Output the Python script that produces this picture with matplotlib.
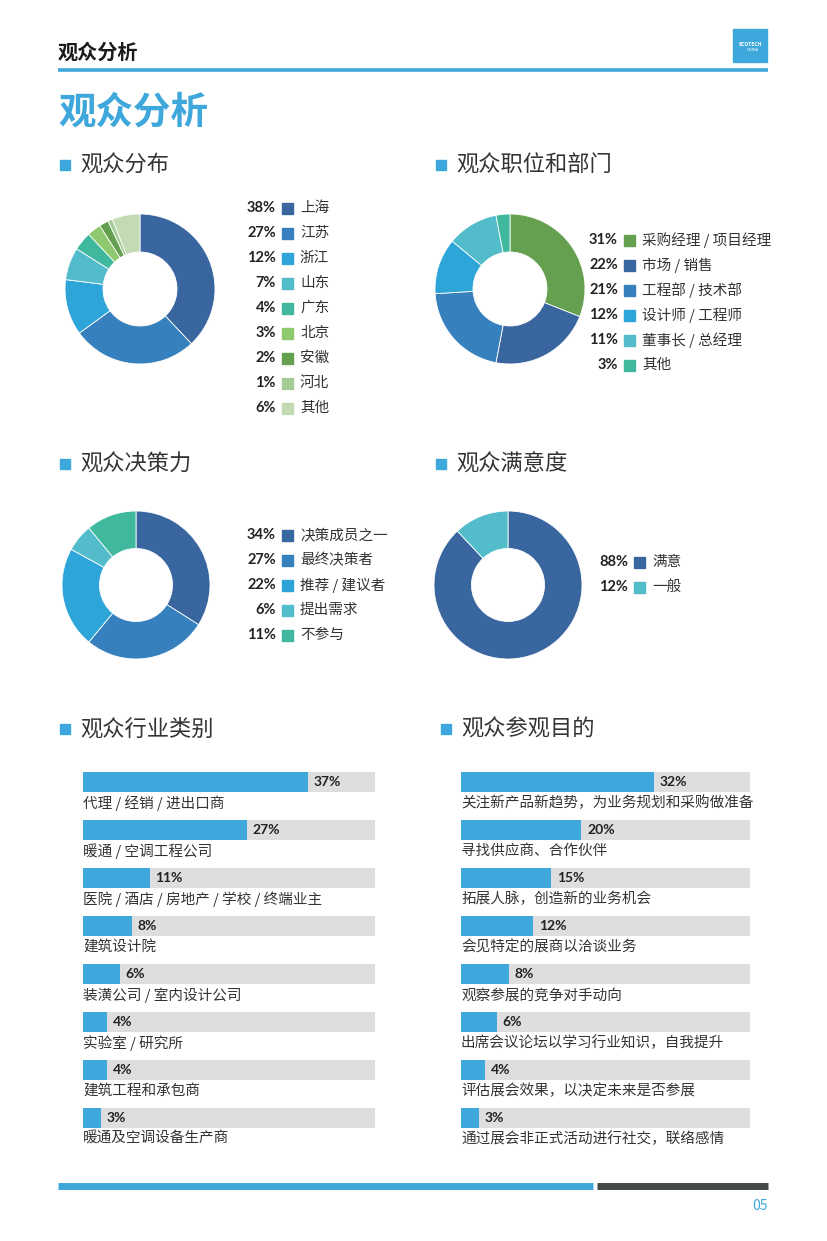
import matplotlib
matplotlib.use("Agg")
import matplotlib.pyplot as plt
from matplotlib.patches import Rectangle

plt.rcParams['font.family'] = ['Noto Sans CJK SC', 'DejaVu Sans']

W, H = 827, 1241

# 数据
dist_labels = ['上海', '江苏', '浙江', '山东', '广东', '北京', '安徽', '河北', '其他']
dist_values = [38, 27, 12, 7, 4, 3, 2, 1, 6]

job_labels = ['采购经理 / 项目经理', '市场 / 销售', '工程部 / 技术部', '设计师 / 工程师', '董事长 / 总经理', '其他']
job_values = [31, 22, 21, 12, 11, 3]

decision_labels = ['决策成员之一', '最终决策者', '推荐 / 建议者', '提出需求', '不参与']
decision_values = [34, 27, 22, 6, 11]

satisfy_labels = ['满意', '一般']
satisfy_values = [88, 12]

industry_labels = ['代理 / 经销 / 进出口商', '暖通 / 空调工程公司', '医院 / 酒店 / 房地产 / 学校 / 终端业主',
                   '建筑设计院', '装潢公司 / 室内设计公司', '实验室 / 研究所', '建筑工程和承包商', '暖通及空调设备生产商']
industry_values = [37, 27, 11, 8, 6, 4, 4, 3]

purpose_labels = ['关注新产品新趋势，为业务规划和采购做准备', '寻找供应商、合作伙伴', '拓展人脉，创造新的业务机会',
                  '会见特定的展商以洽谈业务', '观察参展的竞争对手动向', '出席会议论坛以学习行业知识，自我提升',
                  '评估展会效果，以决定未来是否参展', '通过展会非正式活动进行社交，联络感情']
purpose_values = [32, 20, 15, 12, 8, 6, 4, 3]

# 颜色
BLUE = '#3ea7dc'
DARK = '#333333'
dist_colors = ['#3a66a0', '#3680bd', '#2ea5d8', '#52bccb', '#3fb89e', '#8ec86f', '#64a050', '#a4cc94', '#c2dbb4']
job_colors = ['#64a050', '#3a66a0', '#3680bd', '#2ea5d8', '#52bccb', '#3fb89e']
decision_colors = ['#3a66a0', '#3680bd', '#2ea5d8', '#52bccb', '#3fb89e']
satisfy_colors = ['#3a66a0', '#52bccb']

PCT_FONT = ['Lato', 'Noto Sans CJK SC']

fig = plt.figure(figsize=(W / 100, H / 100), dpi=100)
bg = fig.add_axes([0, 0, 1, 1])
bg.set_xlim(0, W)
bg.set_ylim(H, 0)
bg.axis('off')

# 页眉
bg.text(58, 52, '观众分析', fontsize=14.5, fontweight='bold', color='#1a1a1a', va='center')
bg.plot([58, 768], [69.5, 69.5], color=BLUE, lw=2.6, solid_capstyle='butt')
bg.add_patch(Rectangle((733, 29), 34, 33, color=BLUE))
bg.text(750, 44, 'ECOTECH', fontsize=3.6, color='white', ha='center', va='center', fontweight='bold')
bg.text(753, 50, 'CHINA', fontsize=3.0, color='white', ha='center', va='center')
bg.text(58, 112, '观众分析', fontsize=27, fontweight='bold', color=BLUE, va='center')

# 页脚
bg.plot([58, 593], [1186, 1186], color=BLUE, lw=5, solid_capstyle='butt')
bg.plot([597, 768], [1186, 1186], color='#444a48', lw=5, solid_capstyle='butt')
bg.text(768, 1206, '05', fontsize=10, color=BLUE, ha='right', va='center')


def section(x, y, title):
    bg.add_patch(Rectangle((x, y - 5), 10, 10, color=BLUE))
    bg.text(x + 20, y, title, fontsize=16, color=DARK, va='center')


def donut(cx, cy, r, values, colors, inner=37 / 75):
    ax = fig.add_axes([(cx - r) / W, 1 - (cy + r) / H, 2 * r / W, 2 * r / H])
    ax.pie(values, colors=colors, startangle=90, counterclock=False, radius=1,
           wedgeprops=dict(width=1 - inner, edgecolor='white', linewidth=0.6))
    ax.set_xlim(-1, 1)
    ax.set_ylim(-1, 1)
    ax.axis('off')


def legend(x, y0, labels, values, colors, step=25):
    for i, (lab, v, c) in enumerate(zip(labels, values, colors)):
        y = y0 + i * step
        bg.text(x - 6, y, f'{v}%', fontsize=10.5, fontweight='bold', family=PCT_FONT,
                color='#222222', ha='right', va='center')
        bg.add_patch(Rectangle((x, y - 5.5), 11, 11, color=c))
        bg.text(x + 18, y, lab, fontsize=10.5, color=DARK, va='center')


section(60, 165, '观众分布')
donut(140, 289, 75, dist_values, dist_colors)
legend(282, 208, dist_labels, dist_values, dist_colors)

section(436, 165, '观众职位和部门')
donut(510, 289, 75, job_values, job_colors)
legend(624, 240, job_labels, job_values, job_colors)

section(60, 464, '观众决策力')
donut(136, 585, 74, decision_values, decision_colors)
legend(282, 535, decision_labels, decision_values, decision_colors)

section(436, 464, '观众满意度')
donut(508, 585, 74, satisfy_values, satisfy_colors)
legend(634, 562, satisfy_labels, satisfy_values, satisfy_colors)


def bars(x0, x1, labels, values, top=758, step=48, vmax=48):
    n = len(values)
    ax = fig.add_axes([x0 / W, 1 - (top + n * step) / H, (x1 - x0) / W, n * step / H])
    rows = list(range(n))
    ax.barh(rows, [vmax] * n, height=20 / step, color='#dedede', left=0)
    ax.barh(rows, values, height=20 / step, color=BLUE)
    for i, (lab, v) in enumerate(zip(labels, values)):
        ax.annotate(f'{v}%', (v, i), xytext=(4, 0), textcoords='offset points',
                    fontsize=10, fontweight='bold', family=PCT_FONT, color='#222222',
                    ha='left', va='center')
        ax.text(0, i + 0.44, lab, fontsize=10.5, color=DARK, ha='left', va='center', clip_on=False)
    ax.set_xlim(0, vmax)
    ax.set_ylim(n - 0.5, -0.5)
    ax.axis('off')


section(60, 729, '观众行业类别')
bars(83, 375, industry_labels, industry_values)

section(441, 729, '观众参观目的')
bars(461, 750, purpose_labels, purpose_values)

fig.savefig('out.png', dpi=100)
